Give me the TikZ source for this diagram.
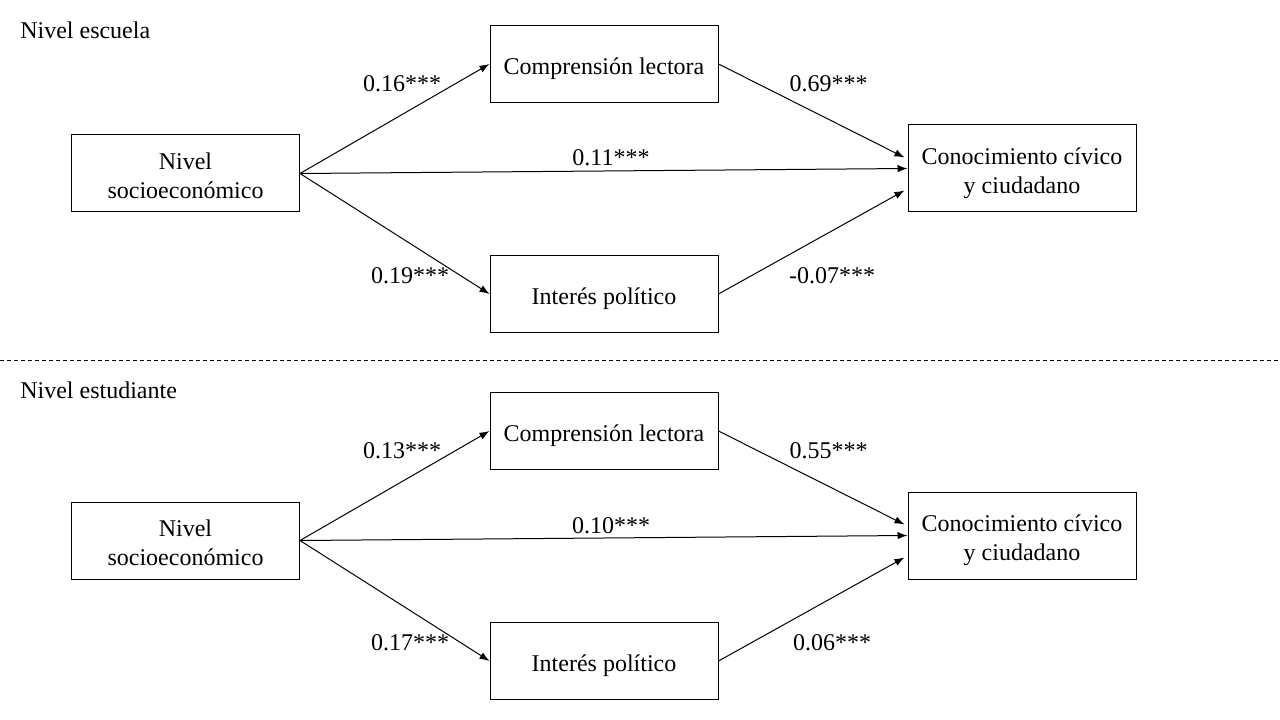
\documentclass[tikz,border=0pt]{standalone}
\usepackage{fontspec}
\setmainfont{Liberation Serif}
\usetikzlibrary{arrows.meta}
\newcommand\bxtop{\rule{0pt}{20pt}}
\newcommand\bxbot{\rule[-4.5pt]{0pt}{4.5pt}}
\begin{document}
\begin{tikzpicture}[x=0.75pt,y=-0.75pt,
  every node/.style={font=\fontsize{18}{21.75}\selectfont},
  box/.style={draw,line width=0.75pt,minimum width=171pt,minimum height=57.75pt,inner sep=0pt,align=center},
  bigbox/.style={box,minimum height=65.25pt},
  arr/.style={line width=0.75pt,-{Latex[length=7.5pt,width=5.5pt]}},
  lab/.style={inner sep=0pt,anchor=base},
  ttl/.style={inner sep=0pt,anchor=base west}]
\useasboundingbox (0,0) rectangle (1280,720);
\foreach \dy/\ty/\tt/\a/\b/\c/\d/\e [count=\i] in {0/38.3/Nivel escuela/0.16***/0.69***/0.11***/0.19***/-0.07***, 367/398.3/Nivel estudiante/0.13***/0.55***/0.10***/0.17***/0.06***}{
  \node[ttl] (t\i) at (20,\ty) {\tt};
  \node[box] (n\i) at (185.5,173.5+\dy) {\bxtop Nivel\\socioeconómico\bxbot};
  \node[box] (c\i) at (604,64+\dy) {\bxtop Comprensión lectora\bxbot};
  \node[box] (p\i) at (604,294+\dy) {\bxtop Interés político\bxbot};
  \node[bigbox] (k\i) at (1022,168.5+\dy) {\bxtop Conocimiento cívico\\y ciudadano\bxbot};
  \coordinate (kt\i) at ([shift={(-3,-11)}]k\i.west);
  \coordinate (kb\i) at ([shift={(-3,22)}]k\i.west);
  \draw[arr] (n\i.east) -- (c\i.west);
  \draw[arr] (n\i.east) -- (p\i.west);
  \draw[arr] (n\i.east) -- (k\i.west);
  \draw[arr] (c\i.east) -- (kt\i);
  \draw[arr] (p\i.east) -- (kb\i);
  \node[lab] (la\i) at (402,91.5+\dy) {\a};
  \node[lab] (lb\i) at (828.5,91.5+\dy) {\b};
  \node[lab] (lc\i) at (611,166+\dy) {\c};
  \node[lab] (ld\i) at (410,283+\dy) {\d};
  \node[lab] (le\i) at (832,283+\dy) {\e};
}
\coordinate (dl) at (0,360.5);
\coordinate (dr) at (1280,360.5);
\draw[line width=0.75pt,dash pattern=on 3pt off 2.25pt] (dl) -- (dr);
\end{tikzpicture}
\end{document}
